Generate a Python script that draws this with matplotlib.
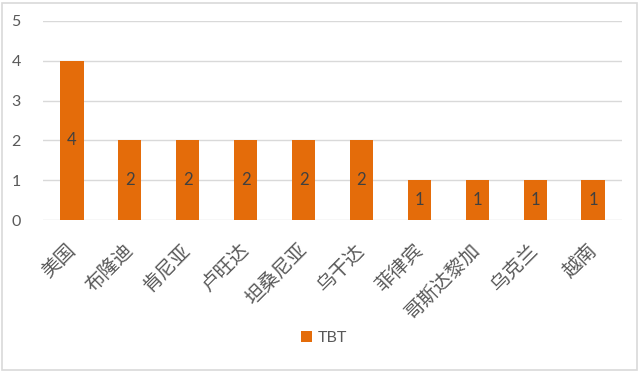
import matplotlib
matplotlib.use("Agg")
import matplotlib.pyplot as plt
from matplotlib.patches import Rectangle
from matplotlib.transforms import ScaledTranslation

plt.rcParams['font.family'] = ['Lato', 'Noto Sans CJK SC', 'DejaVu Sans']

categories = ["美国", "布隆迪", "肯尼亚", "卢旺达", "坦桑尼亚", "乌干达", "菲律宾", "哥斯达黎加", "乌克兰", "越南"]
values = [4, 2, 2, 2, 2, 2, 1, 1, 1, 1]
series_name = "TBT"
yticks = [0, 1, 2, 3, 4, 5]

bar_color = "#E46C0A"
text_color = "#595959"

fig = plt.figure(figsize=(6.4, 3.72), dpi=100)
ax = fig.add_axes([43/640, 1 - 220/372, (622-43)/640, (220-21)/372])

x = list(range(len(categories)))
bars = ax.bar(x, values, width=0.4, color=bar_color, label=series_name, zorder=3)
for xi, v in zip(x, values):
    ax.text(xi, v / 2, str(v), ha='center', va='center', fontsize=12, color="#404040", zorder=4)

ax.set_xlim(-0.5, len(categories) - 0.5)
ax.set_ylim(0, 5)
ax.set_yticks(yticks)
ax.set_yticklabels([str(t) for t in yticks], fontsize=11.5, color=text_color)
ax.yaxis.grid(True, color="#D9D9D9", linewidth=1, zorder=0)
ax.set_xticks(x)
ax.set_xticklabels(categories, rotation=45, ha='right', rotation_mode='anchor',
                   fontsize=14, color=text_color, family=['Noto Sans CJK SC', 'DejaVu Sans'])
ax.tick_params(axis='both', length=0)
ax.tick_params(axis='x', pad=14)
ax.tick_params(axis='y', pad=16)
offset = ScaledTranslation(-7/100, 0, fig.dpi_scale_trans)
for lab in ax.get_xticklabels():
    lab.set_transform(lab.get_transform() + offset)
for s in ax.spines.values():
    s.set_visible(False)

leg = fig.legend(handles=[bars], labels=[series_name], loc='center',
                 bbox_to_anchor=(324/640, 1 - 338/372), frameon=False,
                 fontsize=11.5, handlelength=0.65, handleheight=0.65, handletextpad=0.35)
for t in leg.get_texts():
    t.set_color(text_color)

fig.patches.append(Rectangle((2/640, 2/372), 635/640, 367/372, transform=fig.transFigure,
                             fill=False, edgecolor="#D9D9D9", linewidth=1.2))

fig.savefig("out.png", dpi=100)
